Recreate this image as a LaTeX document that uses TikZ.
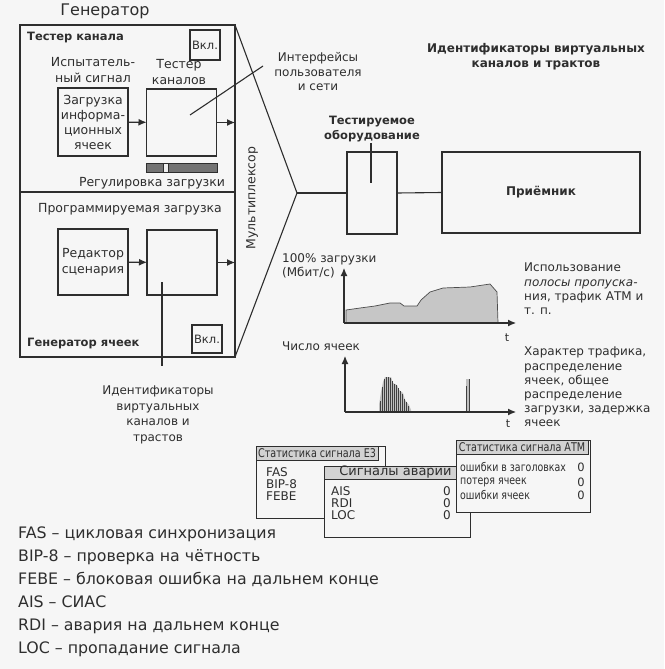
\documentclass[tikz,border=0pt]{standalone}
\usepackage{fontspec}
\setmainfont{DejaVu Sans}
\newfontfamily\narrowf[FakeStretch=0.8]{DejaVu Sans}
\usetikzlibrary{arrows.meta}
\definecolor{ink}{gray}{0.18}
\definecolor{bg}{gray}{0.965}
\tikzset{
  box/.style={draw=ink, line width=1.1pt, inner sep=0pt, outer sep=0pt},
  lbl/.style={inner sep=0pt, align=center, text=ink, font=\fontsize{12.5}{15.5}\selectfont},
  blbl/.style={inner sep=0pt, align=center, text=ink, font=\bfseries\fontsize{11.5}{15}\selectfont},
  ln/.style={draw=ink, line width=1.1pt},
  arr/.style={draw=ink, line width=1.1pt, -{Latex[length=8pt,width=7pt]}},
  tbox/.style={draw=ink, line width=0.9pt, fill=bg, inner sep=0pt, outer sep=0pt, anchor=north west},
  hdr/.style={draw=ink, line width=0.8pt, fill=gray!35, inner sep=0pt, outer sep=0pt, anchor=north west, text=ink},
}
\begin{document}
\begin{tikzpicture}[x=1pt,y=-1pt]
\fill[bg] (0,0) rectangle (664,669);
\useasboundingbox (0,0) rectangle (664,669);

% ---------- Generator ----------
\node[lbl, font=\fontsize{16}{18}\selectfont] (gentitle) at (105,11) {Генератор};
\node[box, minimum width=215, minimum height=332, anchor=north west] (gen) at (20,25) {};
\coordinate (divl) at (20,192);
\coordinate (divr) at (235,192);
\draw[ln] (divl) -- (divr);

\node[blbl, anchor=west] (tch) at (27,38) {Тестер канала};
\node[box, minimum width=30, minimum height=30, lbl, font=\fontsize{11.5}{13}\selectfont] (vkl1) at (205,45) {Вкл.};
\node[lbl] (testsig) at (93,70) {Испытатель-\\ный сигнал};
\node[lbl] (testerlbl) at (179,72) {Тестер\\каналов};
\node[box, minimum width=70, minimum height=68, lbl, font=\fontsize{12.5}{15}\selectfont] (load) at (93,122) {Загрузка\\информа-\\ционных\\ячеек};
\node[box, minimum width=70, minimum height=67] (tester) at (181.5,122.5) {};
\draw[arr] (load) -- (tester);
\draw[arr] (tester.east) -- (tester.east -| gen.east);
\node[draw=ink, line width=0.8pt, fill=black!55, inner sep=0pt, minimum width=71, minimum height=9] (slider) at (181.5,167.5) {};
\node[draw=ink, line width=0.5pt, fill=gray!12, inner sep=0pt, minimum width=5, minimum height=9] (knob) at (165.5,167.5) {};
\node[lbl] (reg) at (152,183) {Регулировка загрузки};

\node[lbl] (prog) at (130,209) {Программируемая загрузка};
\node[box, minimum width=70, minimum height=66, lbl] (editor) at (93,262) {Редактор\\сценария};
\node[box, minimum width=70, minimum height=65] (progbox) at (182,262.5) {};
\draw[arr] (editor) -- (progbox);
\draw[arr] (progbox.east) -- (progbox.east -| gen.east);
\node[blbl, anchor=west] (cellgen) at (27,344) {Генератор ячеек};
\node[box, minimum width=30, minimum height=28, lbl, font=\fontsize{11.5}{13}\selectfont] (vkl2) at (207,339) {Вкл.};

\coordinate (vcip) at (162,282);
\coordinate (vcie) at (162,366);
\draw[ln] (vcip) -- (vcie);
\node[lbl, font=\fontsize{12}{15.5}\selectfont] (vcilbl) at (158,415) {Идентификаторы\\виртуальных\\каналов и\\трастов};

% ---------- Multiplexer ----------
\node[lbl, rotate=90] (mux) at (252,198) {Мультиплексор};
\coordinate (apex) at (297,193);
\draw[ln] (gen.north east) -- (apex) -- (gen.south east);

\node[lbl, font=\fontsize{12}{14.5}\selectfont] (iflbl) at (318,72) {Интерфейсы\\пользователя\\и сети};
\coordinate (ifp) at (190,115);
\coordinate (ife) at (263,66);
\draw[ln] (ifp) -- (ife);

% ---------- DUT and receiver ----------
\node[box, minimum width=50, minimum height=82] (dut) at (372,193) {};
\node[blbl, font=\bfseries\fontsize{11.5}{15}\selectfont] (dutlbl) at (372,129.5) {Тестируемое\\оборудование};
\coordinate (dutp1) at (371,143);
\coordinate (dutp2) at (371,183);
\draw[ln] (dutp1) -- (dutp2);
\node[box, minimum width=198, minimum height=81, blbl, font=\bfseries\fontsize{12}{14}\selectfont] (rx) at (541,192.5) {Приёмник};
\draw[ln] (apex) -- (dut.west);
\draw[ln] (dut.east) -- (rx.west);
\node[blbl, font=\bfseries\fontsize{12}{15}\selectfont] (vcitop) at (536,57) {Идентификаторы виртуальных\\каналов и трактов};

% ---------- Chart 1 ----------
\node[lbl, anchor=north west, align=left, font=\fontsize{12}{14}\selectfont] (ylab1) at (282,253) {100\% загрузки\\(Мбит/с)};
\coordinate (o1) at (344,323);
\coordinate (y1) at (344,268);
\coordinate (x1) at (516,323);
\fill[gray!45, draw=black!70, line width=0.7pt] (346,323) -- (346,310) -- (360,308) -- (375,306) -- (390,303) -- (400,303) -- (404,306) -- (417,306) -- (421,300) -- (430,292) -- (443,288) -- (470,287) -- (490,284) -- (497,292) -- (498,323) -- cycle;
\draw[arr] (o1) -- (y1);
\draw[arr] (o1) -- (x1);
\node[lbl, font=\fontsize{11}{12}\selectfont] (t1) at (507,338) {t};
\node[lbl, anchor=north west, align=left, font=\fontsize{12}{14.3}\selectfont] (usage) at (524,263) {Использование\\\textit{полосы пропуска-}\\ния, трафик АТМ и\\т. п.};

% ---------- Chart 2 ----------
\node[lbl, anchor=west, font=\fontsize{12}{14}\selectfont] (ylab2) at (282,346) {Число ячеек};
\coordinate (o2) at (345,412);
\coordinate (y2) at (345,356);
\coordinate (x2) at (516,412);
\fill[gray!50] (379,412) -- (379,405) -- (381,392) -- (383,382) -- (385,377) -- (391,377) -- (393,383) -- (397,385) -- (399,390) -- (403,393) -- (405,400) -- (409,405) -- (411,410) -- (411,412) -- cycle;
\foreach \x/\t in {380/401, 382/387, 384/379, 386/377, 388/377, 390/378, 392/381, 394/384, 396/385, 398/388, 400/391, 402/394, 404/399, 406/402, 408/406}
  \draw[black!75, line width=0.9pt] (\x,412) -- (\x,\t);
\fill[gray!50] (466,412) rectangle (469.5,379);
\draw[black!75, line width=0.8pt] (466.5,412) -- (466.5,386) (469,412) -- (469,379);
\draw[arr] (o2) -- (y2);
\draw[arr] (o2) -- (x2);
\node[lbl, font=\fontsize{11}{12}\selectfont] (t2) at (508,424) {t};
\node[lbl, anchor=north west, align=left, font=\fontsize{12}{14.2}\selectfont] (traffic) at (524,347) {Характер трафика,\\распределение\\ячеек, общее\\распределение\\загрузки, задержка\\ячеек};

% ---------- Tables ----------
\node[tbox, minimum width=129, minimum height=72] (e3) at (256,446) {};
\node[hdr, minimum width=122, minimum height=14, font=\narrowf\fontsize{12}{13}\selectfont] (e3h) at (256,446) {Статистика сигнала E3};
\node[lbl, anchor=north west, align=left, font=\fontsize{12}{12.3}\selectfont] (e3rows) at (266,467) {FAS\\BIP-8\\FEBE};

\node[tbox, minimum width=146, minimum height=71] (alarm) at (324,466) {};
\node[hdr, minimum width=143, minimum height=13, font=\fontsize{13}{14}\selectfont] (alarmh) at (324,466) {Сигналы аварии};
\node[lbl, anchor=north west, align=left, font=\fontsize{12}{12.2}\selectfont] (alarmrows) at (331,486) {AIS\\RDI\\LOC};
\node[lbl, anchor=north, font=\fontsize{12}{12.2}\selectfont] (alarmvals) at (447,486) {0\\0\\0};

\node[tbox, minimum width=134, minimum height=72] (atm) at (456,440) {};
\node[hdr, minimum width=132, minimum height=14, font=\narrowf\fontsize{12}{13}\selectfont] (atmh) at (456,440) {Статистика сигнала АТМ};
\node[lbl, anchor=west, font=\narrowf\fontsize{11.8}{13}\selectfont] (atm1) at (460,467) {ошибки в заголовках};
\node[lbl, anchor=west, font=\narrowf\fontsize{11.8}{13}\selectfont] (atm2) at (460,482) {потеря ячеек};
\node[lbl, anchor=west, font=\narrowf\fontsize{11.8}{13}\selectfont] (atm3) at (460,495) {ошибки ячеек};
\node[lbl, font=\fontsize{11.5}{12}\selectfont] (atmv1) at (581,467) {0};
\node[lbl, font=\fontsize{11.5}{12}\selectfont] (atmv2) at (581,482) {0};
\node[lbl, font=\fontsize{11.5}{12}\selectfont] (atmv3) at (581,495) {0};

% ---------- Legend ----------
\node[lbl, anchor=north west, align=left, font=\fontsize{15.8}{23}\selectfont] (legend) at (18,527) {FAS – цикловая синхронизация\\BIP-8 – проверка на чётность\\FEBE – блоковая ошибка на дальнем конце\\AIS – СИАС\\RDI – авария на дальнем конце\\LOC – пропадание сигнала};
\end{tikzpicture}
\end{document}
